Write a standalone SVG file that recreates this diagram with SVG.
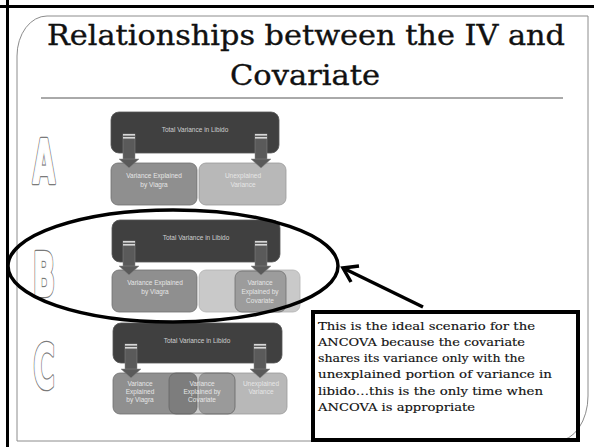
<svg xmlns="http://www.w3.org/2000/svg" width="594" height="447" viewBox="0 0 594 447">
<style>
.title{font-family:"DejaVu Serif","Liberation Serif",serif;font-size:27px;fill:#111;stroke:#111;stroke-width:0.35}
.note{font-family:"DejaVu Serif","Liberation Serif",serif;font-size:11.5px;fill:#111;stroke:#111;stroke-width:0.15}
.big{font-family:"DejaVu Sans","Liberation Sans",sans-serif;font-weight:bold;font-size:60px;text-anchor:middle}
.bo{fill:#fff;stroke:#7a7a7a;stroke-width:4.6;stroke-linejoin:round}
.bi{fill:#fff;stroke:#fff;stroke-width:2;stroke-linejoin:round}
.dark{fill:#404040;stroke:#555;stroke-width:0.8}
.mid{fill:#8f8f8f;stroke:#6e6e6e;stroke-width:0.8}
.light{fill:#b8b8b8;stroke:#999;stroke-width:0.8}
.pale{fill:#c9c9c9;stroke:#b3b3b3;stroke-width:0.8}
.cov{fill:#9c9c9c;stroke:#6e6e6e;stroke-width:0.8}
.covc{fill:#555;fill-opacity:0.3;stroke:#666;stroke-width:0.8}
.tl{font-family:"Liberation Sans","DejaVu Sans",sans-serif;font-size:6.5px;fill:#cfcfcf;text-anchor:middle}
.bl{font-family:"Liberation Sans","DejaVu Sans",sans-serif;font-size:6.5px;fill:#e6e6e6;text-anchor:middle}
</style>
<defs>
<g id="arr">
<rect x="-6" y="-34" width="12" height="26" fill="#5a5a5a" stroke="#888" stroke-width="0.5"/>
<rect x="-6" y="-34" width="12" height="1.6" fill="#d8d8d8"/>
<rect x="-6" y="-31" width="12" height="1.6" fill="#d8d8d8"/>
<polygon points="-10,-9 10,-9 0,0" fill="#5a5a5a" stroke="#888" stroke-width="0.5"/>
</g>
</defs>

<g id="frame">
<line x1="0" y1="6.5" x2="594" y2="6.5" stroke="#000" stroke-width="3"/>
<line x1="7.5" y1="0" x2="7.5" y2="447" stroke="#000" stroke-width="3"/>
<path d="M17,441 V56 A30,40 0 0 1 47,16 H588 V396 A31,45 0 0 1 557,441 Z" fill="none" stroke="#8c8c8c" stroke-width="1"/>
<line x1="41" y1="98" x2="563" y2="98" stroke="#555" stroke-width="1"/>
</g>

<g id="title">
<text class="title" x="47" y="45" textLength="518" lengthAdjust="spacingAndGlyphs">Relationships between the IV and</text>
<text class="title" x="230" y="85" textLength="150" lengthAdjust="spacingAndGlyphs">Covariate</text>
</g>

<g id="letters">
<g transform="translate(44,183) scale(0.48,1)"><text class="big bo">A</text><text class="big bi">A</text></g>
<g transform="translate(44,296) scale(0.48,1)"><text class="big bo">B</text><text class="big bi">B</text></g>
<g transform="translate(44,388) scale(0.48,1)"><text class="big bo">C</text><text class="big bi">C</text></g>
</g>

<g id="panelA">
<rect class="mid" x="111" y="163" width="86" height="42" rx="7"/>
<rect class="light" x="199" y="163" width="87" height="42" rx="7"/>
<rect class="dark" x="111" y="112" width="168" height="41" rx="8"/>
<text class="tl" x="195" y="132">Total Variance in Libido</text>
<text class="bl" x="154" y="178">Variance Explained</text>
<text class="bl" x="154" y="187">by Viagra</text>
<text class="bl" x="243" y="178">Unexplained</text>
<text class="bl" x="243" y="187">Variance</text>
</g>

<g id="panelB">
<rect class="mid" x="112" y="270" width="85" height="42" rx="7"/>
<rect class="pale" x="199" y="270" width="101" height="42" rx="7"/>
<rect class="cov" x="235" y="271" width="51" height="41" rx="7"/>
<rect class="dark" x="112" y="220" width="168" height="42" rx="8"/>
<text class="tl" x="196" y="240">Total Variance in Libido</text>
<text class="bl" x="155" y="285">Variance Explained</text>
<text class="bl" x="155" y="294">by Viagra</text>
<text class="bl" x="260" y="285">Variance</text>
<text class="bl" x="260" y="294">Explained by</text>
<text class="bl" x="260" y="303">Covariate</text>
</g>

<g id="panelC">
<rect class="mid" x="113" y="373" width="84" height="41" rx="7"/>
<rect class="light" x="199" y="373" width="88" height="41" rx="7"/>
<rect class="covc" x="169" y="373" width="66" height="41" rx="7"/>
<rect class="dark" x="113" y="323" width="169" height="40" rx="8"/>
<text class="tl" x="197" y="343">Total Variance in Libido</text>
<text class="bl" x="140" y="386">Variance</text>
<text class="bl" x="140" y="394">Explained</text>
<text class="bl" x="140" y="402">by Viagra</text>
<text class="bl" x="202" y="386">Variance</text>
<text class="bl" x="202" y="394">Explained by</text>
<text class="bl" x="202" y="402">Covariate</text>
<text class="bl" x="261" y="386">Unexplained</text>
<text class="bl" x="261" y="394">Variance</text>
</g>

<g id="connectors">
<use href="#arr" x="129" y="168"/>
<use href="#arr" x="261" y="168"/>
<use href="#arr" x="129" y="275"/>
<use href="#arr" x="261" y="275"/>
<use href="#arr" x="131" y="378"/>
<use href="#arr" x="260" y="378"/>
<line x1="423" y1="307" x2="344" y2="268.5" stroke="#000" stroke-width="3.5"/>
<polyline points="359,266 343,268 351,282" fill="none" stroke="#000" stroke-width="3.5" stroke-linejoin="miter"/>
</g>

<g id="ellipse">
<ellipse cx="173" cy="266" rx="165" ry="56" fill="none" stroke="#000" stroke-width="3.5"/>
</g>

<g id="note">
<rect x="313" y="312" width="265" height="128" fill="none" stroke="#000" stroke-width="4"/>
<text class="note" x="318" y="330" textLength="217" lengthAdjust="spacingAndGlyphs">This is the ideal scenario for the</text>
<text class="note" x="318" y="346" textLength="207" lengthAdjust="spacingAndGlyphs">ANCOVA because the covariate</text>
<text class="note" x="318" y="362" textLength="207" lengthAdjust="spacingAndGlyphs">shares its variance only with the</text>
<text class="note" x="318" y="378" textLength="234" lengthAdjust="spacingAndGlyphs">unexplained portion of variance in</text>
<text class="note" x="318" y="395" textLength="225" lengthAdjust="spacingAndGlyphs">libido…this is the only time when</text>
<text class="note" x="318" y="411" textLength="157" lengthAdjust="spacingAndGlyphs">ANCOVA is appropriate</text>
</g>
</svg>
